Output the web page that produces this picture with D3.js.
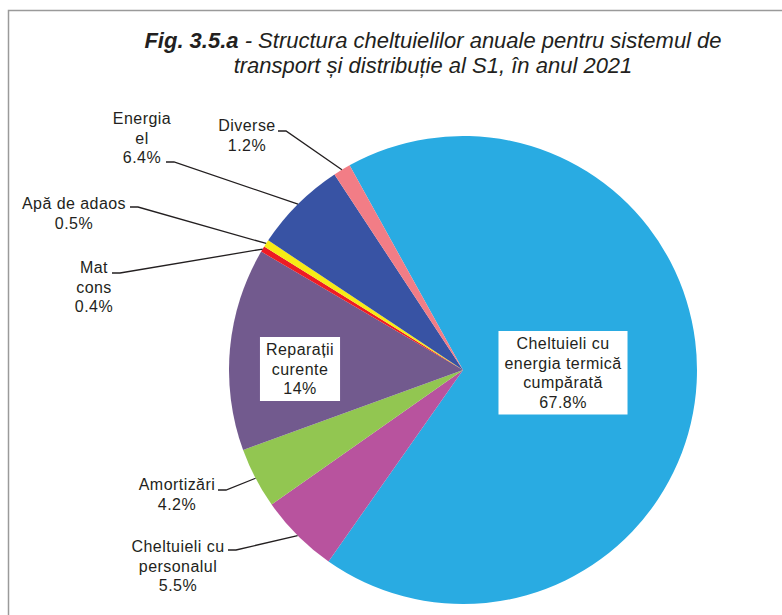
<!DOCTYPE html>
<html>
<head>
<meta charset="utf-8">
<script src="https://cdn.jsdelivr.net/npm/d3@7"></script>
<style>
  body { margin: 0; background: #fff; }
  text { fill: #231f20; }
</style>
</head>
<body>
<script>
// chart data
var categories = ["Cheltuieli cu energia termică cumpărată", "Cheltuieli cu personalul", "Amortizări",
                  "Reparații curente", "Mat cons", "Apă de adaos", "Energia el", "Diverse"];
var shares = [67.8, 5.5, 4.2, 14, 0.4, 0.5, 6.4, 1.2];
var labelLines = [
  ["Cheltuieli cu", "energia termică", "cumpărată"],
  ["Cheltuieli cu", "personalul"],
  ["Amortizări"],
  ["Reparații", "curente"],
  ["Mat", "cons"],
  ["Apă de adaos"],
  ["Energia", "el"],
  ["Diverse"]
];
var colors = ["#29abe2", "#b8539e", "#92c651", "#725a8e", "#ed1c24", "#f7eb15", "#3853a4", "#f27d86"];

var width = 782, height = 615;
var cx = 463, cy = 370, radius = 234;
var lineH = 19.5;

var svg = d3.select("body").append("svg")
    .attr("width", width)
    .attr("height", height)
    .style("font-family", "'Liberation Sans', Arial, sans-serif");

// frame
svg.append("path")
    .attr("d", "M8.5," + height + "V10.5H" + width)
    .attr("fill", "none")
    .attr("stroke", "#9a9a9a")
    .attr("stroke-width", 1.5);

// title
var title = svg.append("text")
    .attr("text-anchor", "middle")
    .style("font-family", "'Liberation Sans Narrow', 'Arial Narrow', sans-serif")
    .style("font-style", "italic")
    .style("font-size", "22px");
var t1 = title.append("tspan").attr("x", 433).attr("y", 48);
t1.append("tspan").style("font-weight", "bold").text("Fig. 3.5.a");
t1.append("tspan").text(" - Structura cheltuielilor anuale pentru sistemul de");
title.append("tspan").attr("x", 433).attr("y", 73)
    .text("transport și distribuție al S1, în anul 2021");

// pie
var startA = -29 * Math.PI / 180;
var pie = d3.pie().sort(null).value(function(d) { return d; })
    .startAngle(startA).endAngle(startA + 2 * Math.PI);
var arc = d3.arc().innerRadius(0).outerRadius(radius);
var arcs = pie(shares);

var g = svg.append("g").attr("transform", "translate(" + cx + "," + cy + ")");
g.selectAll("path.slice")
  .data(arcs)
  .enter().append("path")
    .attr("class", "slice")
    .attr("d", arc)
    .attr("fill", function(d, i) { return colors[i]; });

// label layout: text centre x, first baseline y, leader start (outside labels only)
var layout = [
  {x: 563, y: 349, inside: true},
  {x: 178, y: 552, lx: 228, ly: 550},
  {x: 177, y: 490, lx: 218, ly: 490},
  {x: 300, y: 355, inside: true},
  {x: 94, y: 273, lx: 112, ly: 273},
  {x: 74, y: 209, lx: 130, ly: 207},
  {x: 142, y: 124, lx: 166, ly: 162},
  {x: 247, y: 131, lx: 278, ly: 131}
];

var fmt = function(v) { return v + "%"; };

function addText(sel, L, lines) {
  var t = sel.append("text")
      .attr("text-anchor", "middle")
      .style("font-size", "16px")
      .style("letter-spacing", "0.45px");
  lines.forEach(function(s, k) {
    t.append("tspan").attr("x", L.x).attr("y", L.y + k * lineH).text(s);
  });
  return t;
}

arcs.forEach(function(d, i) {
  var L = layout[i];
  var lines = labelLines[i].concat([fmt(shares[i])]);

  if (L.inside) {
    var lg = svg.append("g");
    var box = lg.append("rect").attr("fill", "#fff");
    var txt = addText(lg, L, lines);
    var bb = txt.node().getBBox();
    box.attr("x", bb.x - 6).attr("y", bb.y - 4)
       .attr("width", bb.width + 12).attr("height", bb.height + 8);
  } else {
    addText(svg, L, lines);
    // leader line to the middle of the slice edge
    var mid = (d.startAngle + d.endAngle) / 2;
    var ex = cx + radius * Math.sin(mid), ey = cy - radius * Math.cos(mid);
    svg.append("polyline")
        .attr("points", [[L.lx, L.ly], [L.lx + 8, L.ly], [ex, ey]].join(" "))
        .attr("fill", "none")
        .attr("stroke", "#231f20")
        .attr("stroke-width", 1.3);
  }
});
</script>
</body>
</html>
